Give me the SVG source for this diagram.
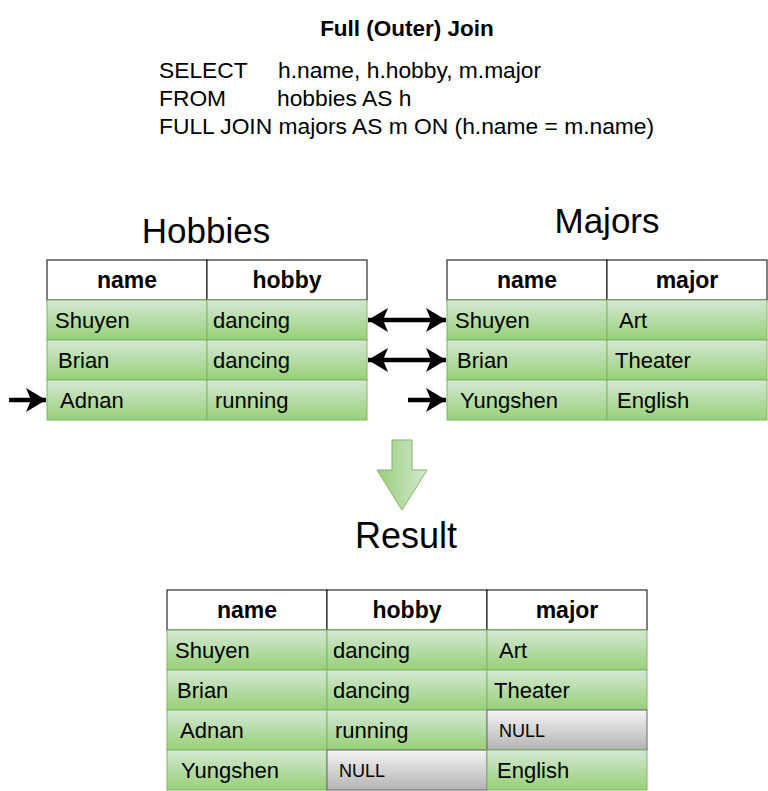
<svg xmlns="http://www.w3.org/2000/svg" width="768" height="791" viewBox="0 0 768 791">
<style>
  text { font-family: "Liberation Sans", Arial, Helvetica, sans-serif; fill: #000; }
  .title { font-size: 22.5px; font-weight: bold; text-anchor: middle; }
  .sql { font-size: 22.8px; }
  .heading { font-size: 35px; text-anchor: middle; }
  .hdr { fill: #ffffff; stroke: #000000; stroke-width: 1; }
  .hdrt { font-size: 23px; font-weight: bold; text-anchor: middle; }
  .cell { fill: url(#green); stroke: #82b366; stroke-width: 1; }
  .null { fill: url(#gray); stroke: #666666; stroke-width: 1; }
  .ct { font-size: 22px; }
  .nt { font-size: 18px; }
  .conn { stroke: #000; stroke-width: 4.5; fill: none; }
</style>
<defs>
  <linearGradient id="green" x1="0" y1="0" x2="0" y2="1">
    <stop offset="0" stop-color="#d5e8d4"/>
    <stop offset="1" stop-color="#97d077"/>
  </linearGradient>
  <linearGradient id="gray" x1="0" y1="0" x2="0" y2="1">
    <stop offset="0" stop-color="#f5f5f5"/>
    <stop offset="1" stop-color="#b3b3b3"/>
  </linearGradient>
  <linearGradient id="greenH" x1="0" y1="0" x2="1" y2="0">
    <stop offset="0" stop-color="#97d077"/>
    <stop offset="1" stop-color="#d5e8d4"/>
  </linearGradient>
  <marker id="ah" markerUnits="userSpaceOnUse" markerWidth="22" markerHeight="26" viewBox="0 -13 22 26" refX="20" refY="0" orient="auto-start-reverse">
    <path d="M0,-12 L20,0 L0,12 L5,0 Z" fill="#000"/>
  </marker>
</defs>

<g id="title">
  <text class="title" x="407" y="36">Full (Outer) Join</text>
</g>
<g id="sql">
  <text class="sql" x="159" y="78">SELECT</text>
  <text class="sql" x="278" y="78">h.name, h.hobby, m.major</text>
  <text class="sql" x="159" y="106">FROM</text>
  <text class="sql" x="277" y="106">hobbies AS h</text>
  <text class="sql" x="159" y="134">FULL JOIN majors AS m ON (h.name = m.name)</text>
</g>

<g id="hobbies">
  <text class="heading" x="206" y="243">Hobbies</text>
  <rect class="hdr" x="47" y="260" width="160" height="40"/>
  <rect class="hdr" x="207" y="260" width="160" height="40"/>
  <text class="hdrt" x="127" y="288">name</text>
  <text class="hdrt" x="287" y="288">hobby</text>
  <rect class="cell" x="47" y="300" width="160" height="40"/>
  <rect class="cell" x="207" y="300" width="160" height="40"/>
  <rect class="cell" x="47" y="340" width="160" height="40"/>
  <rect class="cell" x="207" y="340" width="160" height="40"/>
  <rect class="cell" x="47" y="380" width="160" height="40"/>
  <rect class="cell" x="207" y="380" width="160" height="40"/>
  <text class="ct" x="55" y="328">Shuyen</text>
  <text class="ct" x="213" y="328">dancing</text>
  <text class="ct" x="58" y="368">Brian</text>
  <text class="ct" x="213" y="368">dancing</text>
  <text class="ct" x="60" y="408">Adnan</text>
  <text class="ct" x="215" y="408">running</text>
</g>

<g id="majors">
  <text class="heading" x="607" y="233">Majors</text>
  <rect class="hdr" x="447" y="260" width="160" height="40"/>
  <rect class="hdr" x="607" y="260" width="160" height="40"/>
  <text class="hdrt" x="527" y="288">name</text>
  <text class="hdrt" x="687" y="288">major</text>
  <rect class="cell" x="447" y="300" width="160" height="40"/>
  <rect class="cell" x="607" y="300" width="160" height="40"/>
  <rect class="cell" x="447" y="340" width="160" height="40"/>
  <rect class="cell" x="607" y="340" width="160" height="40"/>
  <rect class="cell" x="447" y="380" width="160" height="40"/>
  <rect class="cell" x="607" y="380" width="160" height="40"/>
  <text class="ct" x="455" y="328">Shuyen</text>
  <text class="ct" x="619" y="328">Art</text>
  <text class="ct" x="457" y="368">Brian</text>
  <text class="ct" x="615" y="368">Theater</text>
  <text class="ct" x="460" y="408">Yungshen</text>
  <text class="ct" x="617" y="408">English</text>
</g>

<g id="down-arrow">
  <polygon points="392,440 412,440 412,470 427,470 402,510 377,470 392,470" fill="url(#greenH)" stroke="#82b366" stroke-width="1"/>
</g>

<g id="result">
  <text class="heading" x="406" y="548" style="font-size:36px">Result</text>
  <rect class="hdr" x="167" y="590" width="160" height="40"/>
  <rect class="hdr" x="327" y="590" width="160" height="40"/>
  <rect class="hdr" x="487" y="590" width="160" height="40"/>
  <text class="hdrt" x="247" y="618">name</text>
  <text class="hdrt" x="407" y="618">hobby</text>
  <text class="hdrt" x="567" y="618">major</text>
  <rect class="cell" x="167" y="630" width="160" height="40"/>
  <rect class="cell" x="327" y="630" width="160" height="40"/>
  <rect class="cell" x="487" y="630" width="160" height="40"/>
  <rect class="cell" x="167" y="670" width="160" height="40"/>
  <rect class="cell" x="327" y="670" width="160" height="40"/>
  <rect class="cell" x="487" y="670" width="160" height="40"/>
  <rect class="cell" x="167" y="710" width="160" height="40"/>
  <rect class="cell" x="327" y="710" width="160" height="40"/>
  <rect class="null" x="487" y="710" width="160" height="40"/>
  <rect class="cell" x="167" y="750" width="160" height="40"/>
  <rect class="null" x="327" y="750" width="160" height="40"/>
  <rect class="cell" x="487" y="750" width="160" height="40"/>
  <text class="ct" x="175" y="658">Shuyen</text>
  <text class="ct" x="333" y="658">dancing</text>
  <text class="ct" x="499" y="658">Art</text>
  <text class="ct" x="177" y="698">Brian</text>
  <text class="ct" x="333" y="698">dancing</text>
  <text class="ct" x="494" y="698">Theater</text>
  <text class="ct" x="180" y="738">Adnan</text>
  <text class="ct" x="335" y="738">running</text>
  <text class="nt" x="499" y="737">NULL</text>
  <text class="ct" x="181" y="778">Yungshen</text>
  <text class="nt" x="339" y="777">NULL</text>
  <text class="ct" x="497" y="778">English</text>
</g>

<g id="connectors">
  <line class="conn" x1="368" y1="320" x2="446" y2="320" marker-start="url(#ah)" marker-end="url(#ah)"/>
  <line class="conn" x1="368" y1="360" x2="446" y2="360" marker-start="url(#ah)" marker-end="url(#ah)"/>
  <line class="conn" x1="408" y1="400" x2="446" y2="400" marker-end="url(#ah)"/>
  <line class="conn" x1="9" y1="400" x2="46" y2="400" marker-end="url(#ah)"/>
</g>
</svg>
